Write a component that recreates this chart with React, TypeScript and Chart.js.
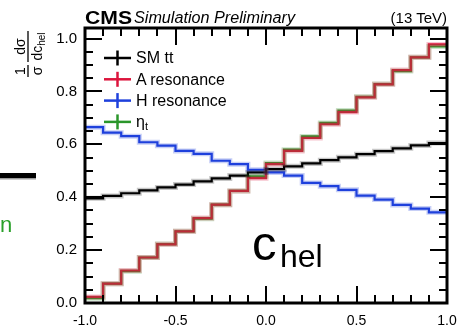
import React, { useEffect, useRef, useState } from 'react';
import { Chart, registerables } from 'chart.js';

Chart.register(...registerables);

// ---- data ----
const BIN_EDGES = [-1.0, -0.9, -0.8, -0.7, -0.6, -0.5, -0.4, -0.3, -0.2, -0.1, 0.0, 0.1, 0.2, 0.3, 0.4, 0.5, 0.6, 0.7, 0.8, 0.9, 1.0];
const SM_TT = [0.396, 0.405, 0.415, 0.426, 0.437, 0.448, 0.460, 0.471, 0.482, 0.494, 0.506, 0.517, 0.528, 0.540, 0.551, 0.563, 0.574, 0.585, 0.596, 0.605];
const A_RES = [0.023, 0.073, 0.123, 0.172, 0.222, 0.271, 0.321, 0.372, 0.424, 0.472, 0.525, 0.575, 0.624, 0.676, 0.722, 0.778, 0.827, 0.881, 0.929, 0.978];
const H_RES = [0.665, 0.644, 0.631, 0.608, 0.595, 0.575, 0.564, 0.538, 0.525, 0.504, 0.494, 0.482, 0.454, 0.442, 0.428, 0.406, 0.391, 0.371, 0.357, 0.343];
const ETA_T = [0.018, 0.073, 0.120, 0.172, 0.223, 0.271, 0.319, 0.372, 0.424, 0.479, 0.529, 0.580, 0.630, 0.681, 0.728, 0.780, 0.828, 0.877, 0.929, 0.970];
const X_TICKS = [-1.0, -0.5, 0.0, 0.5, 1.0];
const Y_TICKS = [0.0, 0.2, 0.4, 0.6, 0.8, 1.0];
const X_MINOR = [-0.9, -0.8, -0.7, -0.6, -0.4, -0.3, -0.2, -0.1, 0.1, 0.2, 0.3, 0.4, 0.6, 0.7, 0.8, 0.9];
const Y_MINOR = [0.05, 0.1, 0.15, 0.25, 0.3, 0.35, 0.45, 0.5, 0.55, 0.65, 0.7, 0.75, 0.85, 0.9, 0.95];
const SERIES_NAMES = ['SM tt', 'A resonance', 'H resonance', 'ηt'];

const COLORS = ['#000000', '#dc143c', '#1e40dc', '#2a962a'];
const HALO = ['rgba(0,0,0,0.22)', 'rgba(220,20,60,0.25)', 'rgba(30,64,220,0.25)', 'rgba(42,150,42,0.25)'];
const FONT = '"Liberation Sans", Arial, Helvetica, sans-serif';
const MAJOR_LEN = 17;
const MINOR_LEN = 8;

type Seg = { x1: number; y1: number; x2: number; y2: number };

const toSteps = (vals: number[]) =>
  BIN_EDGES.map((x, i) => ({ x, y: vals[Math.min(i, vals.length - 1)] }));

const tickSegments = (chart: any): Seg[] => {
  const a = chart.chartArea;
  const xs = chart.scales.x;
  const ys = chart.scales.y;
  const segs: Seg[] = [];
  const xTick = (v: number, len: number) => {
    const px = Math.round(xs.getPixelForValue(v));
    segs.push({ x1: px, y1: a.bottom, x2: px, y2: a.bottom - len });
    segs.push({ x1: px, y1: a.top, x2: px, y2: a.top + len });
  };
  const yTick = (v: number, len: number) => {
    const py = Math.round(ys.getPixelForValue(v));
    segs.push({ x1: a.left, y1: py, x2: a.left + len, y2: py });
    segs.push({ x1: a.right, y1: py, x2: a.right - len, y2: py });
  };
  X_TICKS.forEach((v) => xTick(v, MAJOR_LEN));
  X_MINOR.forEach((v) => xTick(v, MINOR_LEN));
  Y_TICKS.forEach((v) => yTick(v, MAJOR_LEN));
  Y_MINOR.forEach((v) => yTick(v, MINOR_LEN));
  return segs;
};

const rootFrame = {
  id: 'rootFrame',
  afterDraw(chart: any) {
    const ctx = chart.ctx;
    const a = chart.chartArea;
    ctx.save();
    ctx.fillStyle = 'rgb(0,0,0)';
    tickSegments(chart).forEach((s) => {
      const x = Math.min(s.x1, s.x2);
      const y = Math.min(s.y1, s.y2);
      if (s.x1 === s.x2) ctx.fillRect(x - 1, y, 2, Math.abs(s.y2 - s.y1));
      else ctx.fillRect(x, y - 1, Math.abs(s.x2 - s.x1), 2);
    });
    ctx.strokeStyle = 'rgb(0,0,0)';
    ctx.lineWidth = 3;
    ctx.strokeRect(a.left, a.top, a.right - a.left, a.bottom - a.top);
    ctx.restore();
  },
};

export default function App() {
  const ref = useRef<HTMLCanvasElement | null>(null);
  const [ticks, setTicks] = useState<Seg[]>([]);

  useEffect(() => {
    if (!ref.current) return;
    const series = [SM_TT, A_RES, H_RES, ETA_T];
    const halos = series.map((s, i) => ({
      label: SERIES_NAMES[i] + ' band',
      data: toSteps(s),
      borderColor: HALO[i],
      borderWidth: 5,
      stepped: true,
      pointRadius: 0,
      fill: false,
    }));
    const lines = series.map((s, i) => ({
      label: SERIES_NAMES[i],
      data: toSteps(s),
      borderColor: COLORS[i],
      borderWidth: 2.2,
      stepped: true,
      pointRadius: 0,
      fill: false,
    }));
    const chart = new Chart(ref.current, {
      type: 'line',
      data: { datasets: [...halos, ...lines] as any },
      options: {
        animation: false,
        responsive: false,
        devicePixelRatio: 1,
        layout: { padding: { top: 28, right: 11, bottom: 0, left: 0 } },
        plugins: { legend: { display: false }, tooltip: { enabled: false } },
        scales: {
          x: {
            type: 'linear',
            min: -1,
            max: 1,
            grid: { display: false, drawTicks: false },
            border: { display: false },
            afterBuildTicks: (s: any) => {
              s.ticks = X_TICKS.map((value) => ({ value }));
            },
            afterFit: (s: any) => {
              s.height = 29;
              s.paddingLeft = 0;
              s.paddingRight = 0;
            },
            ticks: {
              color: '#000',
              font: { family: FONT, size: 14 },
              padding: 10,
              maxRotation: 0,
              callback: (v: any) => Number(v).toFixed(1),
            },
          },
          y: {
            type: 'linear',
            min: 0,
            max: 1.04,
            grid: { display: false, drawTicks: false },
            border: { display: false },
            afterBuildTicks: (s: any) => {
              s.ticks = Y_TICKS.map((value) => ({ value }));
            },
            afterFit: (s: any) => {
              s.width = 85;
            },
            ticks: {
              color: '#000',
              font: { family: FONT, size: 15 },
              padding: 8,
              callback: (v: any) => Number(v).toFixed(1),
            },
          },
        },
      },
      plugins: [rootFrame],
    });
    setTicks(tickSegments(chart));
    return () => chart.destroy();
  }, []);

  const legendRows = [58, 79.3, 100.6, 121.9];

  return (
    <div style={{ position: 'absolute', left: 0, top: 0, width: 458, height: 332, background: '#fff', overflow: 'hidden' }}>
      <canvas ref={ref} width={458} height={332} style={{ position: 'absolute', left: 0, top: 0, width: 458, height: 332 }} />
      <svg
        width={458}
        height={332}
        style={{ position: 'absolute', left: 0, top: 0, pointerEvents: 'none' }}
        fontFamily={FONT}
      >
        {/* inward ROOT-style ticks (positions from the chart's scales) */}
        {ticks.map((s, i) => (
          <line key={'t' + i} x1={s.x1} y1={s.y1} x2={s.x2} y2={s.y2} stroke="#000" strokeWidth={2} />
        ))}

        {/* header */}
        <text x={85} y={23.5} fontSize={19} fontWeight="bold" textLength={47} lengthAdjust="spacingAndGlyphs">CMS</text>
        <text x={134} y={23.3} fontSize={16} fontStyle="italic" textLength={161} lengthAdjust="spacingAndGlyphs">Simulation Preliminary</text>
        <text x={447} y={22.8} fontSize={15} textAnchor="end">(13 TeV)</text>

        {/* y-axis title */}
        <g transform="translate(28,77) rotate(-90)" fontSize={14}>
          <line x1={0} y1={0} x2={12} y2={0} stroke="#000" strokeWidth={1.3} />
          <text x={6} y={-3} textAnchor="middle">1</text>
          <text x={6} y={14} textAnchor="middle">σ</text>
          <line x1={15} y1={0} x2={46} y2={0} stroke="#000" strokeWidth={1.3} />
          <text x={30.5} y={-3} textAnchor="middle">dσ</text>
          <text x={30.5} y={14} textAnchor="middle">
            dc<tspan fontSize={10} dy={3}>hel</tspan>
          </text>
        </g>

        {/* legend */}
        {legendRows.map((cy, i) => (
          <g key={i}>
            <line x1={104} y1={cy} x2={131} y2={cy} stroke={COLORS[i]} strokeWidth={2.5} />
            <line x1={117.5} y1={cy - 7.5} x2={117.5} y2={cy + 7.5} stroke={COLORS[i]} strokeWidth={2.5} />
            {i < 3 ? (
              <text x={136} y={cy + 5.3} fontSize={16}>{SERIES_NAMES[i]}</text>
            ) : (
              <text x={136} y={cy + 5.3} fontSize={16}>
                η<tspan fontSize={11} dy={3}>t</tspan>
              </text>
            )}
          </g>
        ))}

        {/* c_hel annotation */}
        <text x={252} y={260} fontSize={49}>c</text>
        <text x={280} y={267} fontSize={32}>hel</text>

        {/* cropped neighbours on the left edge */}
        <rect x={0} y={173} width={36} height={5} fill="#000" />
        <rect x={0} y={178} width={36} height={1.5} fill="#999" />
        <text x={0} y={232} fontSize={22} fill="#2aa02a">n</text>
      </svg>
    </div>
  );
}
